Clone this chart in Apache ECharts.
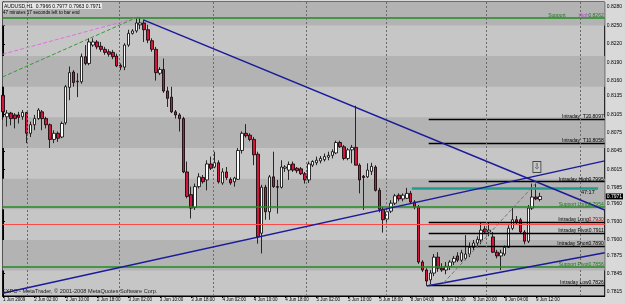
<!DOCTYPE html>
<html><head><meta charset="utf-8">
<script src="https://cdn.jsdelivr.net/npm/echarts@6/dist/echarts.min.js"></script>
<style>html,body{margin:0;padding:0;background:#d9d9d9;}#c{width:625px;height:304px;}</style>
</head><body><div id="c"></div>
<script>
// AUDUSD H1 bars, index 0 = 1 Jun 18:00 ... 137 = 9 Jun 13:00
const openP = [0.8136,0.8101,0.8107,0.8104,0.8104,0.8101,0.8108,0.8074,0.8088,0.8098,
0.8109,0.8098,0.8088,0.8064,0.8074,0.8068,0.8091,0.8149,0.8174,0.8158,
0.8158,0.8199,0.8188,0.8218,0.8223,0.8216,0.8211,0.8207,0.8206,0.8200,
0.8185,0.8182,0.8218,0.8237,0.8241,0.8251,0.8254,0.8243,0.8225,0.8211,
0.8172,0.8178,0.8143,0.8133,0.8109,0.8104,0.8098,0.8011,0.7974,0.7953,
0.7987,0.8002,0.7998,0.8024,0.8019,0.8026,0.7993,0.8011,0.7999,0.7995,
0.7999,0.8046,0.8074,0.8071,0.8064,0.8040,0.7911,0.7986,0.7946,0.8003,
0.7987,0.7986,0.8017,0.8014,0.8024,0.8017,0.8016,0.8008,0.7998,0.8022,
0.8026,0.8029,0.8031,0.8035,0.8038,0.8042,0.8059,0.8052,0.8033,0.8047,
0.8051,0.8022,0.8004,0.8003,0.8012,0.8019,0.7981,0.7950,0.7934,0.7947,
0.7960,0.7973,0.7967,0.7968,0.7976,0.7962,0.7954,0.7864,0.7851,0.7835,
0.7846,0.7872,0.7854,0.7851,0.7857,0.7864,0.7874,0.7867,0.7870,0.7877,
0.7888,0.7895,0.7900,0.7918,0.7913,0.7905,0.7880,0.7874,0.7877,0.7888,
0.7919,0.7933,0.7933,0.7913,0.7898,0.7952,0.7970,0.7966];
const highP = [0.8150,0.8112,0.8109,0.8107,0.8109,0.8112,0.8109,0.8093,0.8104,0.8115,
0.8112,0.8101,0.8090,0.8079,0.8077,0.8093,0.8153,0.8183,0.8177,0.8172,
0.8204,0.8218,0.8229,0.8229,0.8226,0.8223,0.8215,0.8211,0.8210,0.8204,
0.8188,0.8221,0.8243,0.8244,0.8262,0.8263,0.8259,0.8251,0.8229,0.8215,
0.8182,0.8196,0.8150,0.8150,0.8112,0.8107,0.8101,0.8028,0.7987,0.7992,
0.8009,0.8006,0.8030,0.8036,0.8044,0.8030,0.8017,0.8019,0.8002,0.8003,
0.8050,0.8077,0.8089,0.8074,0.8068,0.8044,0.7990,0.7990,0.8006,0.8044,
0.7998,0.8030,0.8022,0.8028,0.8028,0.8019,0.8019,0.8011,0.8028,0.8030,
0.8036,0.8037,0.8041,0.8044,0.8048,0.8062,0.8062,0.8055,0.8050,0.8055,
0.8119,0.8025,0.8006,0.8025,0.8026,0.8022,0.7985,0.7954,0.7950,0.7965,
0.7975,0.7976,0.7976,0.7985,0.7980,0.7965,0.7957,0.7867,0.7854,0.7851,
0.7877,0.7880,0.7862,0.7864,0.7867,0.7874,0.7880,0.7884,0.7908,0.7896,
0.7900,0.7906,0.7929,0.7923,0.7928,0.7913,0.7884,0.7884,0.7891,0.7924,
0.7952,0.7939,0.7936,0.7916,0.7957,0.7992,0.7992,0.7977];
const lowP = [0.8096,0.8085,0.8087,0.8082,0.8090,0.8096,0.8058,0.8068,0.8079,0.8096,
0.8079,0.8082,0.8050,0.8058,0.8060,0.8066,0.8088,0.8128,0.8150,0.8133,
0.8155,0.8185,0.8185,0.8215,0.8211,0.8207,0.8202,0.8199,0.8195,0.8182,
0.8177,0.8177,0.8215,0.8235,0.8238,0.8244,0.8223,0.8221,0.8207,0.8160,
0.8169,0.8140,0.8117,0.8107,0.8098,0.8077,0.8009,0.7968,0.7935,0.7949,
0.7984,0.7992,0.7981,0.8014,0.8017,0.7992,0.7990,0.7998,0.7990,0.7987,
0.7998,0.8041,0.8067,0.8061,0.8022,0.7894,0.7878,0.7933,0.7933,0.7985,
0.7943,0.7984,0.8011,0.7998,0.8011,0.8009,0.8006,0.7992,0.7993,0.8019,
0.8022,0.8025,0.8028,0.8030,0.8033,0.8040,0.8050,0.8030,0.8030,0.8025,
0.8022,0.7976,0.7949,0.8001,0.8006,0.7979,0.7945,0.7912,0.7926,0.7944,
0.7957,0.7963,0.7963,0.7967,0.7960,0.7950,0.7861,0.7848,0.7825,0.7828,
0.7841,0.7848,0.7848,0.7844,0.7851,0.7859,0.7864,0.7864,0.7867,0.7872,
0.7884,0.7888,0.7893,0.7910,0.7906,0.7879,0.7870,0.7851,0.7874,0.7887,
0.7916,0.7926,0.7911,0.7893,0.7895,0.7949,0.7965,0.7963];
const closeP = [0.8109,0.8107,0.8098,0.8098,0.8100,0.8108,0.8074,0.8088,0.8098,0.8112,
0.8098,0.8088,0.8064,0.8074,0.8066,0.8090,0.8150,0.8173,0.8157,0.8159,
0.8199,0.8188,0.8223,0.8223,0.8215,0.8211,0.8206,0.8203,0.8199,0.8184,
0.8182,0.8218,0.8237,0.8241,0.8254,0.8254,0.8243,0.8226,0.8211,0.8173,
0.8178,0.8143,0.8131,0.8109,0.8104,0.8098,0.8011,0.7971,0.7952,0.7987,
0.8003,0.7995,0.8024,0.8017,0.8026,0.7995,0.8011,0.8002,0.7993,0.8001,
0.8046,0.8074,0.8070,0.8064,0.8039,0.7905,0.7986,0.7946,0.8003,0.7987,
0.7986,0.8019,0.8019,0.8023,0.8014,0.8013,0.8008,0.7998,0.8024,0.8028,
0.8030,0.8033,0.8036,0.8038,0.8044,0.8059,0.8052,0.8033,0.8047,0.8051,
0.8022,0.7998,0.8002,0.8014,0.8020,0.7981,0.7950,0.7933,0.7946,0.7960,
0.7972,0.7967,0.7973,0.7976,0.7962,0.7954,0.7864,0.7851,0.7833,0.7846,
0.7872,0.7854,0.7851,0.7857,0.7864,0.7870,0.7867,0.7879,0.7877,0.7888,
0.7895,0.7901,0.7916,0.7913,0.7916,0.7880,0.7874,0.7879,0.7888,0.7919,
0.7933,0.7929,0.7913,0.7898,0.7952,0.7970,0.7967,0.7971];

const xTickIdx = [0,8,16,24,32,40,48,56,64,72,80,88,96,104,112,120,128,136];
const xTickLabels = ["1 Jun 2009","2 Jun 02:00","2 Jun 10:00","2 Jun 18:00","3 Jun 02:00","3 Jun 10:00","3 Jun 18:00","4 Jun 02:00","4 Jun 10:00","4 Jun 18:00","5 Jun 02:00","5 Jun 10:00","5 Jun 18:00","8 Jun 04:00","8 Jun 12:00","8 Jun 20:00","9 Jun 04:00","9 Jun 12:00"];
const yTickValues = [0.8280,0.8250,0.8220,0.8190,0.8160,0.8135,0.8105,0.8075,0.8045,0.8015,0.7985,0.7960,0.7930,0.7900,0.7875,0.7845,0.7815];
const gridSeparators = [6.1,29.7,53.6,77.4,97.7,123.4,147.2];

// level lines
const supportNames = ["Support High","Support Long","Support Pivot"];
const supportValues = [0.8262,0.7954,0.7856];
const intradayNames = ["Intraday  T2","Intraday  T1","Intraday High","Intraday Long","Intraday Pivot","Intraday Short","Intraday Low"];
const intradayValues = [0.8097,0.8058,0.7995,0.7929,0.7911,0.7890,0.7826];
const redLevel = 0.7926;
const tealLevel = 0.7985;
const lastPrice = 0.7971;
const bandEdges = [0.7800,0.7850,0.7900,0.7950,0.8000,0.8050,0.8100,0.8150,0.8200,0.8250,0.8300];

// trend lines [[i,price],[i,price]]
const downTrend = [[35.8,0.8259],[153.5,0.7949]];
const upTrend = [[-0.1,0.7813],[153.5,0.8029]];
const lowTrend = [[108.1,0.7825],[153.5,0.7879]];
const grayDotted = [[112.4,0.7830],[136,0.7993]];
const pinkDotted = [[-0.1,0.8203],[34,0.8262]];
const greenDotted = [[-0.1,0.8166],[34.5,0.8264]];

const XMIN=-0.1, XMAX=153.5, YMIN=0.78086, YMAX=0.82882;
const FONT='Liberation Sans';
const candles = openP.map((o,i)=>[i,o,closeP[i],lowP[i],highP[i]]);

const bands=[];
for(let k=1;k<bandEdges.length-1;k+=2){bands.push([{coord:[XMIN,bandEdges[k]]},{coord:[XMAX,Math.min(bandEdges[k+1],YMAX)]}]);}

function seg(p,color,type,width){return [{coord:p[0],lineStyle:{color:color,type:type,width:width}},{coord:p[1]}];}
const lvlLines=[];
const lblRich={
  b:{fontFamily:FONT,fontSize:5,color:'#000',width:42},
  g:{fontFamily:FONT,fontSize:5,color:'#1c7a1c',width:42},
  gs:{fontFamily:FONT,fontSize:5,color:'#1c7a1c',width:19},
  p:{fontFamily:FONT,fontSize:5,color:'#b050c0',width:23},
  vb:{fontFamily:FONT,fontSize:5,color:'#000',width:15,align:'right'},
  vg:{fontFamily:FONT,fontSize:5,color:'#1c7a1c',width:15,align:'right'},
  vr:{fontFamily:FONT,fontSize:5,color:'#b00000',width:15,align:'right'}
};
function hline(x0,v,style,label){
  return [{coord:[x0,v],lineStyle:style,label:label||{show:false}},{coord:[XMAX,v]}];
}
supportNames.forEach((n,k)=>{
  const v=supportValues[k];
  const f = n==='Support High' ? '{gs|Support}{p|High}{vg|'+v.toFixed(4)+'}' : '{g|'+n+'}{vg|'+v.toFixed(4)+'}';
  lvlLines.push(hline(XMIN,v,{color:'#228b22',width:1.5,type:'solid'},
    {show:true,position:'insideEndTop',distance:[1,0],formatter:f,rich:lblRich}));
});
intradayNames.forEach((n,k)=>{
  const v=intradayValues[k];
  const vs = n==='Intraday Long' ? '{vr|0.7930}' : '{vb|'+v.toFixed(4)+'}';
  lvlLines.push(hline(108.6,v,{color:'#000',width:1.3,type:'solid'},
    {show:true,position:'insideEndTop',distance:[1,0],formatter:'{b|'+n+'}'+vs,rich:lblRich}));
});
lvlLines.push(hline(XMIN,redLevel,{color:'#ff4a4a',width:1,type:'solid'}));
lvlLines.push([{coord:[104.3,tealLevel],lineStyle:{color:'#1f9c8c',width:2.5,type:'solid'},label:{show:false}},{coord:[151.8,tealLevel]}]);
gridSeparators.forEach(x=>lvlLines.push([{coord:[x,YMIN],lineStyle:{color:'#6a6a6a',type:[2,2],width:1},label:{show:false}},{coord:[x,YMAX]}]));

const priceBox=[[{coord:[XMIN,lastPrice],lineStyle:{color:'rgba(0,0,0,0)',width:1},
  label:{show:true,position:'end',distance:1,formatter:lastPrice.toFixed(4),backgroundColor:'#000',color:'#fff',fontFamily:FONT,fontSize:5,padding:[1,1,0,1]}},
  {coord:[XMAX,lastPrice]}]];

const trendLines=[
  seg(downTrend,'#1a1a9a','solid',1.5),
  seg(upTrend,'#1a1a9a','solid',1.5),
  seg(lowTrend,'#1a1a9a','solid',1.5),
  seg(grayDotted,'#777','dashed',1),
  seg(pinkDotted,'#e070e0','dashed',1),
  seg(greenDotted,'#3a9a3a','dashed',1)
].map(s=>{s[0].label={show:false};return s;});

const chart=echarts.init(document.getElementById('c'),null,{renderer:'canvas'});
chart.setOption({
  animation:false,
  backgroundColor:'#d9d9d9',
  grid:{left:2,right:18,top:2,bottom:8,show:true,backgroundColor:'#c6c6c6',borderColor:'#000',borderWidth:1},
  xAxis:{type:'value',min:XMIN,max:XMAX,splitLine:{show:false},
    axisLine:{show:true,lineStyle:{color:'#000'}},
    axisTick:{show:true,length:2,customValues:xTickIdx,lineStyle:{color:'#000'}},
    axisLabel:{customValues:xTickIdx,align:'left',margin:1,fontSize:4.5,fontFamily:FONT,color:'#000',
      formatter:v=>{const k=xTickIdx.indexOf(Math.round(v));return k>=0?xTickLabels[k]:'';}}},
  yAxis:{type:'value',position:'right',min:YMIN,max:YMAX,scale:true,splitLine:{show:false},
    axisLine:{show:true,lineStyle:{color:'#000'}},
    axisTick:{show:true,length:2,customValues:yTickValues,lineStyle:{color:'#000'}},
    axisLabel:{customValues:yTickValues,margin:2,fontSize:5,fontFamily:FONT,color:'#000',formatter:v=>v.toFixed(4)}},
  graphic:[
    {type:'text',left:3,top:3,z:100,style:{text:'AUDUSD,H1  0.7966 0.7977 0.7963 0.7971',font:'5px "Liberation Sans"',fill:'#000',backgroundColor:'#e6e6e6',padding:[1,1,0,1]}},
    {type:'text',left:3,top:10,z:100,style:{text:'47 minutes 17 seconds left to bar end',font:'4.6px "Liberation Sans"',fill:'#000'}},
    {type:'text',left:2,top:288,z:100,style:{text:'EXPO - MetaTrader, \u00a9 2001-2008 MetaQuotes Software Corp.',font:'5.6px "Liberation Sans"',fill:'#222'}}
  ],
  series:[
    {type:'line',data:[],z:1,silent:true,
      markArea:{silent:true,itemStyle:{color:'#b3b3b3'},data:bands}},
    {type:'line',data:[],z:2,silent:true,
      markLine:{silent:true,symbol:['none','none'],animation:false,data:lvlLines}},
    {type:'candlestick',z:3,barWidth:3,data:candles,
      encode:{x:0,y:[1,2,3,4]},
      itemStyle:{color:'#ffffff',color0:'#d4153c',borderColor:'#000',borderColor0:'#000',borderWidth:0.8}},
    {type:'line',data:[],z:4,silent:true,
      markLine:{silent:true,symbol:['none','none'],animation:false,data:trendLines.concat(priceBox)},
      markPoint:{silent:true,data:[
        {coord:[136.2,0.8019],symbol:'rect',symbolSize:[8,11],itemStyle:{color:'#c8c8c8',borderColor:'#444',borderWidth:1},
          label:{show:true,formatter:'\u21e9',fontSize:8,fontFamily:'DejaVu Sans',color:'#333'}},
        {coord:[149.2,0.7978],symbol:'rect',symbolSize:1,itemStyle:{color:'rgba(0,0,0,0)'},
          label:{show:true,formatter:'47:17',fontSize:5.5,fontFamily:FONT,color:'#000'}}
      ]}}
  ]
});
</script></body></html>
